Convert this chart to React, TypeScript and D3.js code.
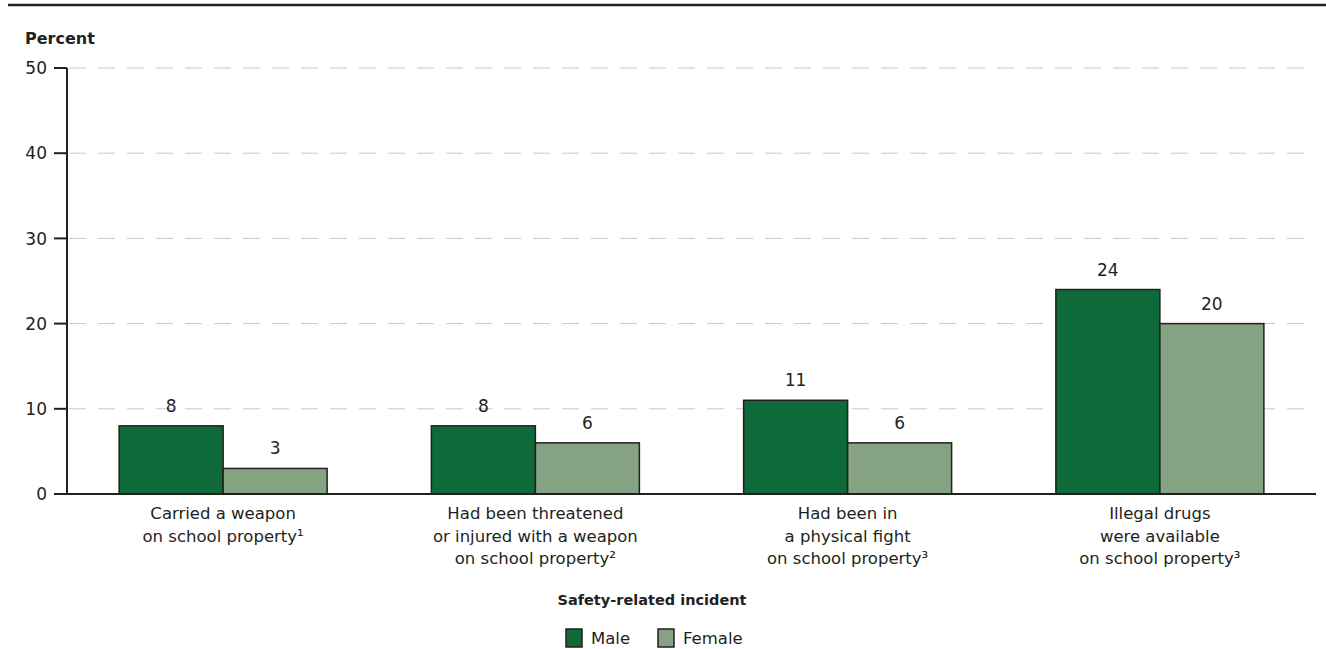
import React from "react";
import * as d3 from "d3";

const categories = [
  ["Carried a weapon", "on school property¹"],
  ["Had been threatened", "or injured with a weapon", "on school property²"],
  ["Had been in", "a physical fight", "on school property³"],
  ["Illegal drugs", "were available", "on school property³"],
];
const maleValues = [8, 8, 11, 24];
const femaleValues = [3, 6, 6, 20];
const yTicks = [0, 10, 20, 30, 40, 50];
const seriesNames = ["Male", "Female"];
const seriesColors = ["#0e6a39", "#85a283"];

export default function App() {
  const W = 1326, H = 649;
  const left = 67, right = 1316, top = 68, bottom = 494;
  const x = d3.scaleBand<number>().domain(categories.map((_, i) => i)).range([left, right]);
  const y = d3.scaleLinear().domain([0, 50]).range([bottom, top]);
  const barW = 104;
  const font = "'DejaVu Sans', sans-serif";
  const ink = "#231f20";
  const series = [maleValues, femaleValues];
  return (
    <svg width={W} height={H} style={{ position: "absolute", left: 0, top: 0, background: "#fff" }} fontFamily={font}>
      <line x1={8} x2={W} y1={5} y2={5} stroke={ink} strokeWidth={2.5} />
      <text x={25} y={44} fontSize={16} fontWeight="bold" fill={ink}>Percent</text>
      {yTicks.map((t) => (
        <g key={t}>
          {t > 0 && (
            <line x1={left + 2} x2={right} y1={y(t)} y2={y(t)} stroke="#c8c8c8" strokeWidth={1} strokeDasharray="17 12" />
          )}
          <line x1={54} x2={left} y1={y(t)} y2={y(t)} stroke={ink} strokeWidth={2} />
          <text x={47} y={y(t)} dy="0.36em" textAnchor="end" fontSize={17} fill={ink}>{t}</text>
        </g>
      ))}
      {categories.map((_, i) => {
        const cx = x(i)! + x.bandwidth() / 2;
        return (
          <g key={i}>
            {series.map((vals, s) => {
              const bx = cx - barW + s * barW;
              return (
                <g key={s}>
                  <rect x={bx} y={y(vals[i])} width={barW} height={bottom - y(vals[i])} fill={seriesColors[s]} stroke={ink} strokeWidth={1.5} />
                  <text x={bx + barW / 2} y={y(vals[i]) - 14} textAnchor="middle" fontSize={17} fill={ink}>{vals[i]}</text>
                </g>
              );
            })}
          </g>
        );
      })}
      <line x1={left} x2={left} y1={top} y2={bottom} stroke={ink} strokeWidth={2} />
      <line x1={54} x2={right} y1={bottom} y2={bottom} stroke={ink} strokeWidth={2} />
      {categories.map((lines, i) => {
        const cx = x(i)! + x.bandwidth() / 2;
        return (
          <text key={i} x={cx} textAnchor="middle" fontSize={16.5} fill={ink}>
            {lines.map((l, j) => (
              <tspan key={j} x={cx} y={519 + j * 22.5}>{l}</tspan>
            ))}
          </text>
        );
      })}
      <text x={652} y={605} textAnchor="middle" fontSize={14.5} fontWeight="bold" fill={ink}>Safety-related incident</text>
      {seriesNames.map((n, s) => {
        const lx = 566 + s * 92;
        return (
          <g key={n}>
            <rect x={lx} y={629} width={16} height={18} fill={seriesColors[s]} stroke={ink} strokeWidth={1.5} />
            <text x={lx + 25} y={644} fontSize={16.5} fill={ink}>{n}</text>
          </g>
        );
      })}
    </svg>
  );
}
